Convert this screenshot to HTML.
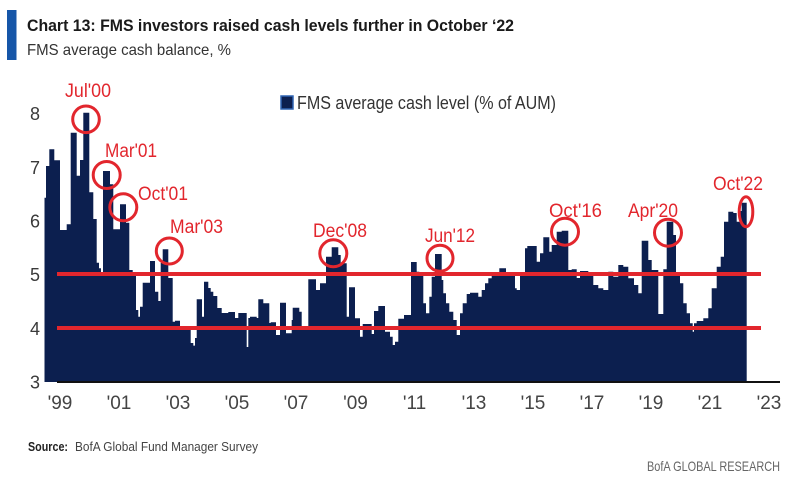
<!DOCTYPE html>
<html>
<head>
<meta charset="utf-8">
<style>
  html, body { margin: 0; padding: 0; background: #ffffff; }
  body { width: 800px; height: 489px; overflow: hidden; }
  svg { display: block; }
  text { font-family: "Liberation Sans Narrow", "Liberation Sans", sans-serif; }
</style>
</head>
<body>
<svg width="800" height="489" viewBox="0 0 800 489" xmlns="http://www.w3.org/2000/svg">
  <rect x="0" y="0" width="800" height="489" fill="#ffffff"/>

  <!-- Header -->
  <rect x="7" y="10" width="9.5" height="50" fill="#1656a8"/>
  <text x="27" y="31" font-size="17" font-weight="bold" fill="#1a1a1a" textLength="487" lengthAdjust="spacingAndGlyphs">Chart 13: FMS investors raised cash levels further in October ‘22</text>
  <text x="27" y="55" font-size="16" fill="#333333" textLength="204" lengthAdjust="spacingAndGlyphs">FMS average cash balance, %</text>

  <!-- Legend -->
  <rect x="281" y="96" width="12" height="13" fill="#0c1f4f" stroke="#2f64b3" stroke-width="1.5"/>
  <text x="297" y="109" font-size="18" fill="#333333" textLength="259" lengthAdjust="spacingAndGlyphs">FMS average cash level (% of AUM)</text>

  <!-- Y axis labels -->
  <g font-size="18" fill="#3a3a3a" text-anchor="middle">
    <text x="35" y="120">8</text>
    <text x="35" y="174">7</text>
    <text x="35" y="227.5">6</text>
    <text x="35" y="281">5</text>
    <text x="35" y="335">4</text>
    <text x="35" y="388.5">3</text>
  </g>

  <!-- Bars -->
  <path fill="#0c1f4f" d="M44.5,382
V197.7H46 V166H49.3 V149.3H54.3 V160.3H60 V230H66.7 V224.3H70.7 V132.7H76.7 V175.7H80 V160H83.3 V112.7H89.3
V192.3H93.3 V219H96.7 V262.7H99 V268.3H101 V274H103 V171H110 V184.3H113.3 V229.3H120 V204.3H126 V222.7H129.3
V270H132.7 V274H136 V310H138.3 V316.7H140 V306.7H142.7 V282.7H150 V261H155 V291.7H158.3 V301H160.7 V263H162.7
V249.3H168.3 V278H172.7 V321.7H175 V320.7H180 V328H190.7 V343H193.3 V345.6H195 V338H196.7 V299.3H202 V316.7H204
V281.7H208.3 V288H210.7 V291.7H213.3 V296H217.3 V308H221.7 V313H228.3 V312H235 V318H238.3 V313H246.7 V347H248.3
V318H250 V316.7H256.7 V318H258.3 V299.3H263.3 V303.3H269.3 V323H270.7 V322.3H276 V335H280 V302.7H286 V333.3H291.7
V320H292.7 V307.7H299.3 V311.7H301.7 V326H308.3 V279.3H316 V290H320 V283.3H326 V256.7H331.7 V247.3H338.3 V255H340.7
V263.3H346.7 V316.7H349 V287.3H355 V318.3H360 V336.7H362.7 V324H371.7 V334H374 V311H378.3 V306H385 V331.7H390
V336.7H392.7 V345H395 V341.7H398.3 V318.7H404 V315H411 V262H416.7 V271.7H419.3 V272.7H423.3 V303.3H426 V313.3H429.3
V296.7H431.7 V276.7H435 V254H441.7 V280H443.3 V293.3H446 V303.3H449.3 V311.7H453.3 V320H456.7 V335H460 V313.3H462.7
V303.3H466.7 V294H470 V292.7H478.3 V296.7H481.7 V290H485 V283.3H488.3 V278.3H491.7 V275H499.3 V268.3H506 V275H515
V288.3H516.7 V290H520 V275H525 V248.3H527.3 V246H536.7 V261.7H540 V253.3H543.3 V237.3H549.3 V251.7H551.7 V245H556.7
V231.7H561.7 V230.7H568.3 V270H571.7 V269.3H576.7 V278H580 V271H588.3 V275H593.3 V285H598.3 V288.3H603.3 V290H608.3
V271.7H613.3 V276.7H618.3 V265H623.3 V266.7H628.3 V278.3H634 V285H638.3 V293.3H641.7 V240.7H648.3 V260H651.7 V270H658.3
V314H663.3 V269.3H666.7 V221.7H673.3 V235H676 V273.3H680 V283.3H683.3 V303.3H686.7 V313.3H690 V323.3H692.7 V331.7H694
V323.3H696.7 V321H703.3 V318.3H708.3 V308.3H711.7 V288.3H716.7 V266.7H720.7 V256.7H724 V221.7H728.3 V211.7H733.3
V213H736.7 V221.7H740 V211H741.7 V202.7H746.7 V382Z"/>

  <!-- Baseline -->
  <rect x="57" y="381" width="723" height="2" fill="#111111"/>

  <!-- Red reference lines -->
  <rect x="57" y="272" width="704" height="4" fill="#e2262d"/>
  <rect x="57" y="326" width="704" height="4" fill="#e2262d"/>

  <!-- Annotation circles -->
  <g fill="none" stroke="#e2262d" stroke-width="3">
    <circle cx="86" cy="119.3" r="13.3"/>
    <circle cx="106.7" cy="175" r="13.5"/>
    <circle cx="123.3" cy="207.3" r="13.5"/>
    <circle cx="169.3" cy="251" r="13"/>
    <circle cx="333.3" cy="253.3" r="13.5"/>
    <circle cx="440" cy="258.3" r="13"/>
    <circle cx="565" cy="231.7" r="13.5"/>
    <circle cx="668" cy="232.7" r="13.5"/>
    <ellipse cx="746" cy="211.7" rx="6.8" ry="15"/>
  </g>

  <!-- Annotation labels -->
  <g font-size="19" fill="#e2262d">
    <text x="65" y="97" textLength="46" lengthAdjust="spacingAndGlyphs">Jul'00</text>
    <text x="105" y="157" textLength="52" lengthAdjust="spacingAndGlyphs">Mar'01</text>
    <text x="138" y="200" textLength="50" lengthAdjust="spacingAndGlyphs">Oct'01</text>
    <text x="170" y="233" textLength="53" lengthAdjust="spacingAndGlyphs">Mar'03</text>
    <text x="313" y="237" textLength="54" lengthAdjust="spacingAndGlyphs">Dec'08</text>
    <text x="425" y="242" textLength="50" lengthAdjust="spacingAndGlyphs">Jun'12</text>
    <text x="549" y="217" textLength="53" lengthAdjust="spacingAndGlyphs">Oct'16</text>
    <text x="628" y="217" textLength="50" lengthAdjust="spacingAndGlyphs">Apr'20</text>
    <text x="713" y="190" textLength="50" lengthAdjust="spacingAndGlyphs">Oct'22</text>
  </g>

  <!-- X axis labels -->
  <g font-size="19" fill="#444444" text-anchor="middle">
    <text x="60" y="409">'99</text>
    <text x="119" y="409">'01</text>
    <text x="178" y="409">'03</text>
    <text x="237" y="409">'05</text>
    <text x="296" y="409">'07</text>
    <text x="355.5" y="409">'09</text>
    <text x="414.5" y="409">'11</text>
    <text x="474" y="409">'13</text>
    <text x="533" y="409">'15</text>
    <text x="592" y="409">'17</text>
    <text x="651" y="409">'19</text>
    <text x="710" y="409">'21</text>
    <text x="769" y="409">'23</text>
  </g>

  <!-- Footer -->
  <text x="28" y="451" font-size="13" font-weight="bold" fill="#222222" textLength="40" lengthAdjust="spacingAndGlyphs">Source:</text>
  <text x="75" y="451" font-size="13" fill="#444444" textLength="183" lengthAdjust="spacingAndGlyphs">BofA Global Fund Manager Survey</text>
  <text x="647" y="471" font-size="14" fill="#666666" textLength="133" lengthAdjust="spacingAndGlyphs">BofA GLOBAL RESEARCH</text>
</svg>
</body>
</html>
